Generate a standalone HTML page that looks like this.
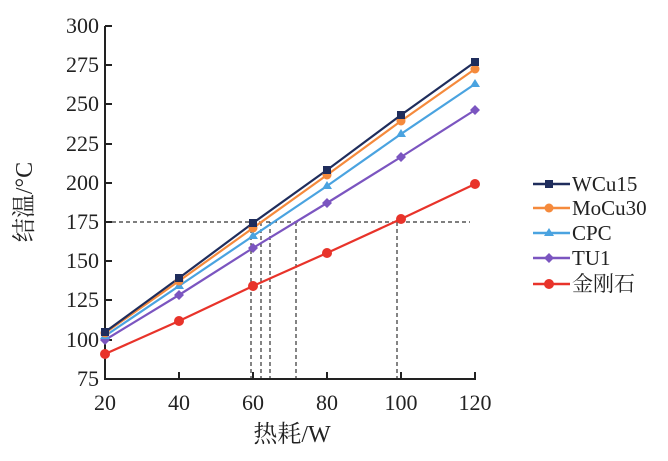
<!DOCTYPE html>
<html><head><meta charset="utf-8"><style>
html,body{margin:0;padding:0;background:#fff;}
svg text{font-family:"Liberation Serif","Noto Serif CJK SC",serif;fill:#222;}
</style></head><body>
<svg width="668" height="456" viewBox="0 0 668 456" xmlns="http://www.w3.org/2000/svg">
<g stroke="#333" stroke-width="1.2" stroke-dasharray="4,3" fill="none">
<line x1="105" y1="222" x2="470" y2="222"/>
<line x1="251" y1="222" x2="251" y2="379"/>
<line x1="261" y1="222" x2="261" y2="379"/>
<line x1="270" y1="222" x2="270" y2="379"/>
<line x1="296" y1="222" x2="296" y2="379"/>
<line x1="397" y1="222" x2="397" y2="379"/>
</g>
<g stroke="#222" stroke-width="2" fill="none">
<path d="M105,26 V379 H476"/>
<path d="M105,26 H112 M105,65 H112 M105,104 H112 M105,144 H112 M105,183 H112 M105,222 H112 M105,261 H112 M105,300 H112 M105,340 H112"/>
<path d="M179,379 V372 M253,379 V372 M327,379 V372 M401,379 V372 M475,379 V372"/>
</g>
<g font-size="22" text-anchor="end">
<text x="99" y="33">300</text><text x="99" y="72">275</text><text x="99" y="111">250</text>
<text x="99" y="151">225</text><text x="99" y="190">200</text><text x="99" y="229">175</text>
<text x="99" y="268">150</text><text x="99" y="307">125</text><text x="99" y="347">100</text>
<text x="99" y="386">75</text>
</g>
<g font-size="22" text-anchor="middle">
<text x="105" y="410">20</text><text x="179" y="410">40</text><text x="253" y="410">60</text>
<text x="327" y="410">80</text><text x="401" y="410">100</text><text x="475" y="410">120</text>
<text x="292" y="442" font-size="24">热耗/W</text>
<text transform="translate(32,202) rotate(-90)" font-size="24">结温/°C</text>
</g>
<polyline fill="none" stroke="#e8332a" stroke-width="2.2" points="105,354 179,321 253,286 327,253 401,219 475,184"/>
<polyline fill="none" stroke="#7b55c0" stroke-width="2.2" points="105,340 179,295 253,248 327,203 401,157 475,110"/>
<polyline fill="none" stroke="#4aa3e0" stroke-width="2.2" points="105,336 179,286 253,236 327,186 401,134 475,84"/>
<polyline fill="none" stroke="#f58a3c" stroke-width="2.2" points="105,333 179,281 253,228 327,175 401,121 475,69"/>
<polyline fill="none" stroke="#1f2d5c" stroke-width="2.2" points="105,332 179,278 253,223 327,170 401,115 475,62"/>
<g fill="#e8332a"><circle cx="105" cy="354" r="5"/><circle cx="179" cy="321" r="5"/><circle cx="253" cy="286" r="5"/><circle cx="327" cy="253" r="5"/><circle cx="401" cy="219" r="5"/><circle cx="475" cy="184" r="5"/></g>
<g fill="#7b55c0"><path d="M105,335l5,5-5,5-5-5z M179,290l5,5-5,5-5-5z M253,243l5,5-5,5-5-5z M327,198l5,5-5,5-5-5z M401,152l5,5-5,5-5-5z M475,105l5,5-5,5-5-5z"/></g>
<g fill="#4aa3e0"><path d="M105,331l5,8h-10z M179,281l5,8h-10z M253,231l5,8h-10z M327,181l5,8h-10z M401,129l5,8h-10z M475,79l5,8h-10z"/></g>
<g fill="#f58a3c"><circle cx="105" cy="333" r="4.5"/><circle cx="179" cy="281" r="4.5"/><circle cx="253" cy="228" r="4.5"/><circle cx="327" cy="175" r="4.5"/><circle cx="401" cy="121" r="4.5"/><circle cx="475" cy="69" r="4.5"/></g>
<g fill="#1f2d5c"><rect x="101" y="328" width="8" height="8"/><rect x="175" y="274" width="8" height="8"/><rect x="249" y="219" width="8" height="8"/><rect x="323" y="166" width="8" height="8"/><rect x="397" y="111" width="8" height="8"/><rect x="471" y="58" width="8" height="8"/></g>
<g stroke-width="2.5">
<line x1="533" y1="184" x2="570" y2="184" stroke="#1f2d5c"/>
<line x1="533" y1="208" x2="570" y2="208" stroke="#f58a3c"/>
<line x1="533" y1="233" x2="570" y2="233" stroke="#4aa3e0"/>
<line x1="533" y1="258" x2="570" y2="258" stroke="#7b55c0"/>
<line x1="533" y1="284" x2="570" y2="284" stroke="#e8332a"/>
</g>
<rect x="545" y="180" width="8" height="8" fill="#1f2d5c"/>
<circle cx="549" cy="208" r="4.5" fill="#f58a3c"/>
<path d="M549,228l5,8h-10z" fill="#4aa3e0"/>
<path d="M549,253l5,5-5,5-5-5z" fill="#7b55c0"/>
<circle cx="549" cy="284" r="5" fill="#e8332a"/>
<g font-size="21">
<text x="572" y="191">WCu15</text>
<text x="572" y="215">MoCu30</text>
<text x="572" y="240">CPC</text>
<text x="572" y="265">TU1</text>
<text x="572" y="291">金刚石</text>
</g>
</svg>
</body></html>
